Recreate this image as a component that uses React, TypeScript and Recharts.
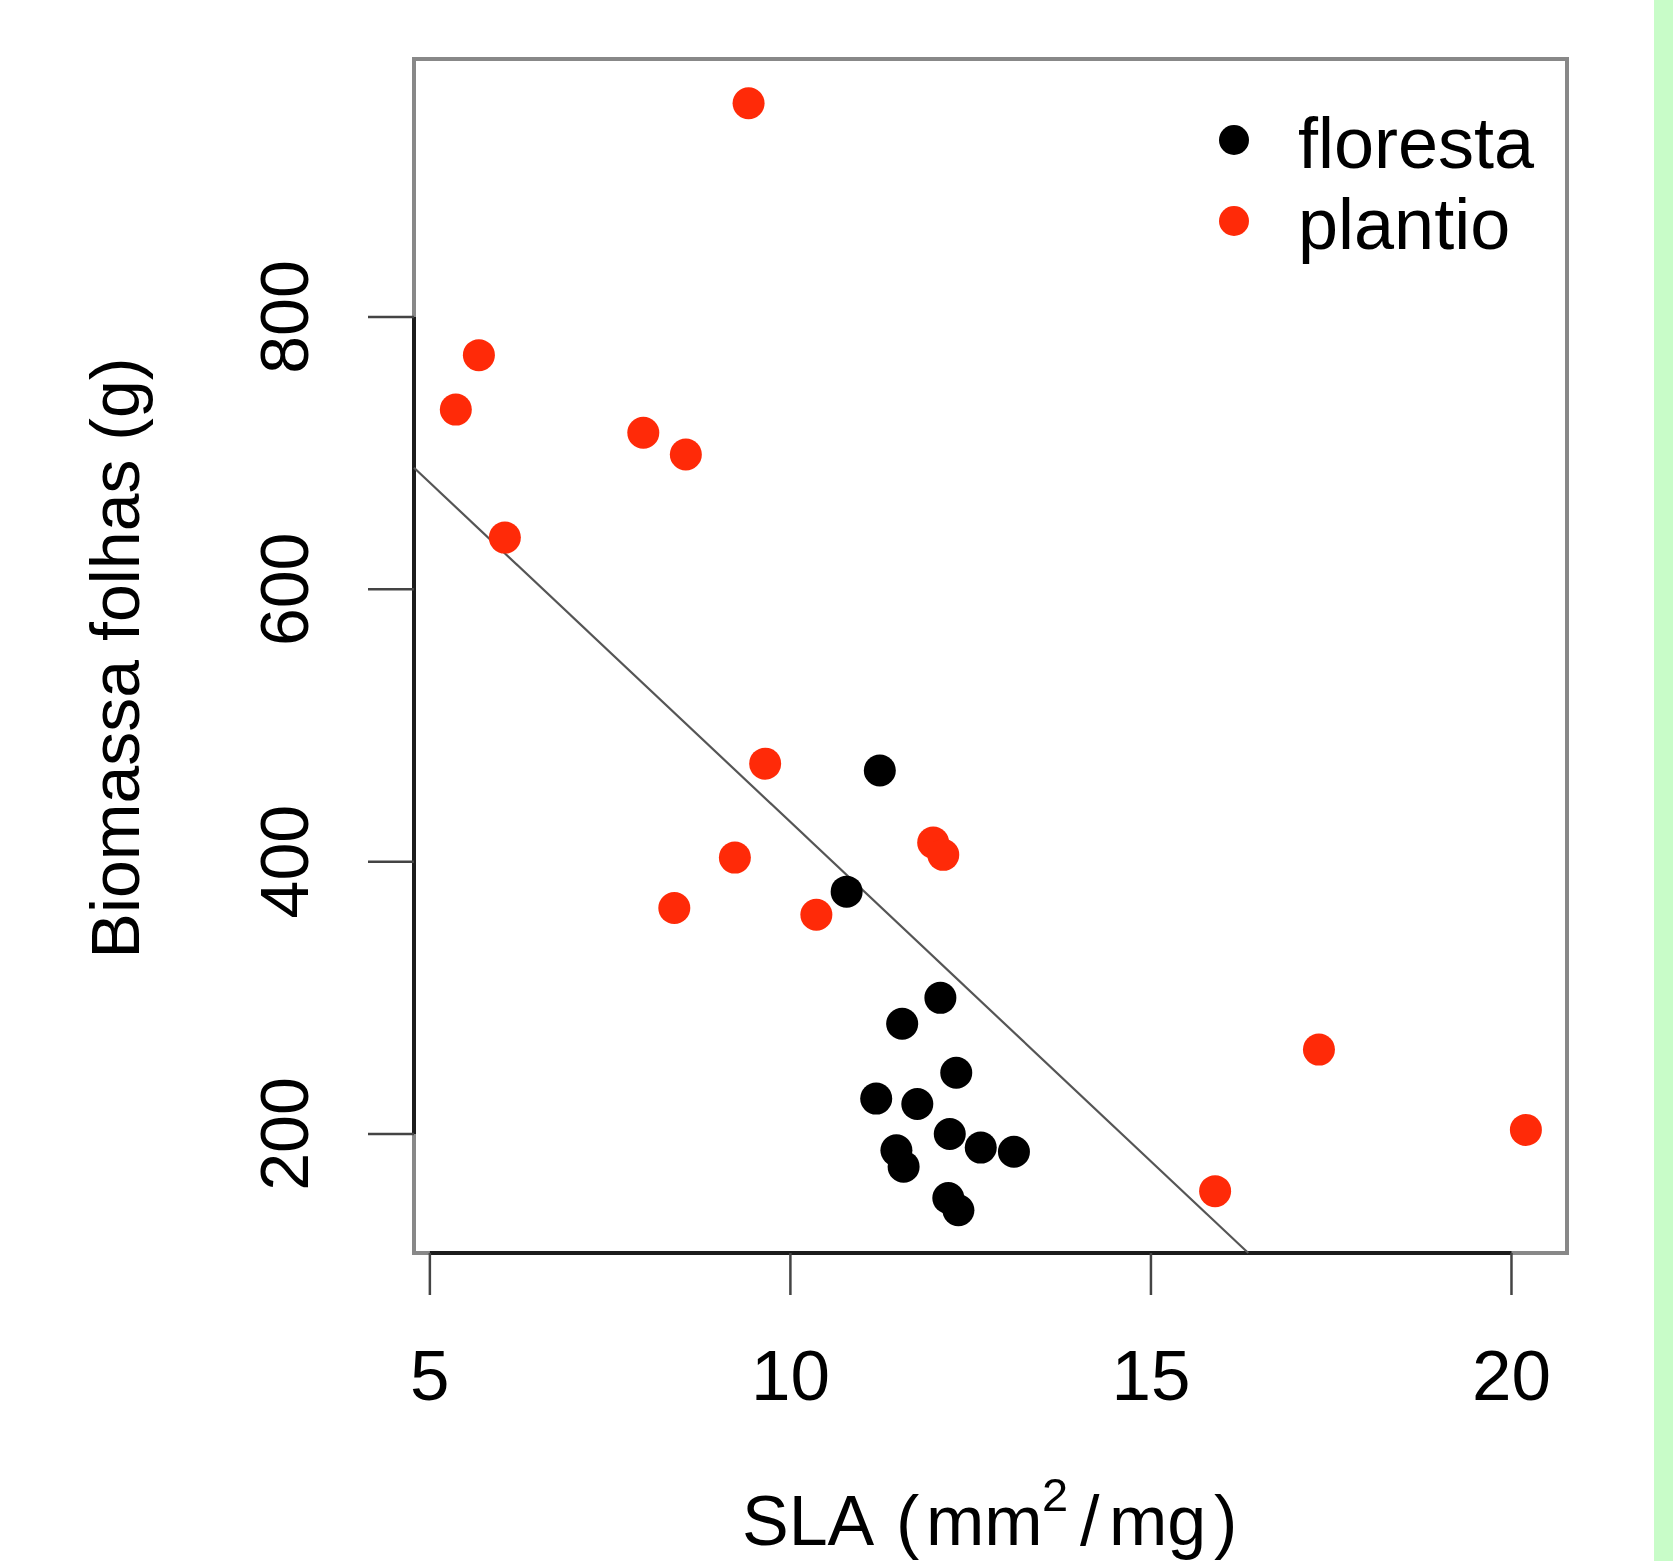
import React from "react";
import {
  ScatterChart,
  Scatter,
  XAxis,
  YAxis,
  ReferenceLine,
  ReferenceArea,
  Legend,
} from "recharts";

// ---- data ----
const florestaSLA = [11.24, 10.78, 12.08, 11.55, 12.3, 11.19, 11.76, 12.21, 12.64, 13.1, 11.47, 11.57, 12.19, 12.33];
const florestaBiomassa = [467, 378, 300, 281, 245, 226, 222, 200, 190, 187, 188, 176, 153, 144];
const plantioSLA = [9.42, 5.68, 5.36, 7.96, 8.55, 6.04, 9.65, 11.98, 12.12, 9.23, 8.39, 10.36, 17.33, 20.2, 15.89];
const plantioBiomassa = [957, 772, 732, 715, 699, 638, 472, 414, 405, 403, 366, 361, 262, 203, 158];

const seriesNames = ["floresta", "plantio"];
const seriesColors = ["#000000", "#ff2a08"];

const xTicks = [5, 10, 15, 20];
const yTicks = [200, 400, 600, 800];
const xDomain = [4.78, 20.77];
const yDomain = [112.6, 989.5];

// fitted line: Biomassa = intercept + slope * SLA
const lineIntercept = 927.5;
const lineSlope = -49.84;

const floresta = florestaSLA.map((x, i) => ({ x, y: florestaBiomassa[i] }));
const plantio = plantioSLA.map((x, i) => ({ x, y: plantioBiomassa[i] }));

const FONT = "'Liberation Sans', Arial, Helvetica, sans-serif";

const dot = (color: string) => (props: any) => (
  <circle cx={props.cx} cy={props.cy} r={16} fill={color} />
);

const XTick = (props: any) => {
  const { x, y, payload } = props;
  return (
    <text x={x} y={y} textAnchor="middle" fontFamily={FONT} fontSize={71} fill="#000">
      {payload.value}
    </text>
  );
};

const YTick = (props: any) => {
  const { x, y, payload } = props;
  return (
    <text
      x={x}
      y={y}
      transform={`rotate(-90 ${x} ${y})`}
      textAnchor="middle"
      fontFamily={FONT}
      fontSize={68}
      fill="#000"
    >
      {payload.value}
    </text>
  );
};

const XLabel = () => (
  <text fontFamily={FONT} fontSize={70} fill="#000" y={1537}>
    <tspan x={734}>SLA</tspan>
    <tspan x={888}>(</tspan>
    <tspan x={918}>mm</tspan>
    <tspan x={1034} y={1503} fontSize={47}>2</tspan>
    <tspan x={1072} y={1537}>/</tspan>
    <tspan x={1101}>mg</tspan>
    <tspan x={1206}>)</tspan>
  </text>
);

const YLabel = () => (
  <text
    x={131}
    y={650}
    transform="rotate(-90 131 650)"
    textAnchor="middle"
    fontFamily={FONT}
    fontSize={68}
    fill="#000"
  >
    Biomassa folhas (g)
  </text>
);

const LegendContent = (props: any) => {
  const payload = props.payload || [];
  return (
    <svg width={440} height={260} style={{ display: "block", overflow: "visible" }}>
      {payload.map((p: any, i: number) => (
        <g key={i}>
          <circle cx={36} cy={62 + i * 81} r={15} fill={p.color} />
          <text x={100} y={90 + i * 81} fontFamily={FONT} fontSize={72} fill="#000">
            {p.value}
          </text>
        </g>
      ))}
    </svg>
  );
};

export default function App() {
  const lineStartX = xDomain[0];
  const lineEndX = (yDomain[0] - lineIntercept) / lineSlope;
  return (
    <div style={{ position: "relative", width: 1657, height: 1553, background: "#fff" }}>
      <div
        style={{
          position: "fixed",
          left: 1654,
          top: 0,
          width: 19,
          height: 1561,
          background: "#c8fcc8",
        }}
      />
      <ScatterChart
        width={1657}
        height={1553}
        margin={{ top: 51, right: 98, bottom: 0, left: 0 }}
      >
        <XAxis
          type="number"
          dataKey="x"
          domain={xDomain}
          ticks={xTicks}
          allowDataOverflow
          axisLine={false}
          tickLine={{ stroke: "#444", strokeWidth: 2.5 }}
          tickSize={42}
          tickMargin={105}
          height={308}
          tick={<XTick />}
          label={{ content: () => <XLabel /> }}
        />
        <YAxis
          type="number"
          dataKey="y"
          domain={yDomain}
          ticks={yTicks}
          allowDataOverflow
          axisLine={false}
          tickLine={{ stroke: "#444", strokeWidth: 2.5 }}
          tickSize={46}
          tickMargin={60}
          width={406}
          tick={<YTick />}
          label={{ content: () => <YLabel /> }}
        />
        <ReferenceArea
          x1={xDomain[0]}
          x2={xDomain[1]}
          y1={yDomain[0]}
          y2={yDomain[1]}
          fill="none"
          fillOpacity={0}
          stroke="#888"
          strokeWidth={4}
          ifOverflow="visible"
        />
        <ReferenceLine
          segment={[
            { x: xTicks[0], y: yDomain[0] },
            { x: xTicks[xTicks.length - 1], y: yDomain[0] },
          ]}
          stroke="#1c1c1c"
          strokeWidth={4}
          ifOverflow="visible"
        />
        <ReferenceLine
          segment={[
            { x: xDomain[0], y: yTicks[0] },
            { x: xDomain[0], y: yTicks[yTicks.length - 1] },
          ]}
          stroke="#1c1c1c"
          strokeWidth={4}
          ifOverflow="visible"
        />
        <ReferenceLine
          segment={[
            { x: lineStartX, y: lineIntercept + lineSlope * lineStartX },
            { x: lineEndX, y: yDomain[0] },
          ]}
          stroke="#555"
          strokeWidth={2.2}
          ifOverflow="visible"
        />
        <Scatter
          name={seriesNames[0]}
          data={floresta}
          fill={seriesColors[0]}
          shape={dot(seriesColors[0])}
          legendType="circle"
          isAnimationActive={false}
        />
        <Scatter
          name={seriesNames[1]}
          data={plantio}
          fill={seriesColors[1]}
          shape={dot(seriesColors[1])}
          legendType="circle"
          isAnimationActive={false}
        />
        <Legend
          layout="vertical"
          align="center"
          verticalAlign="middle"
          width={440}
          height={260}
          wrapperStyle={{ left: 1190, top: 70, width: 440, height: 260 }}
          content={<LegendContent />}
        />
      </ScatterChart>
    </div>
  );
}
